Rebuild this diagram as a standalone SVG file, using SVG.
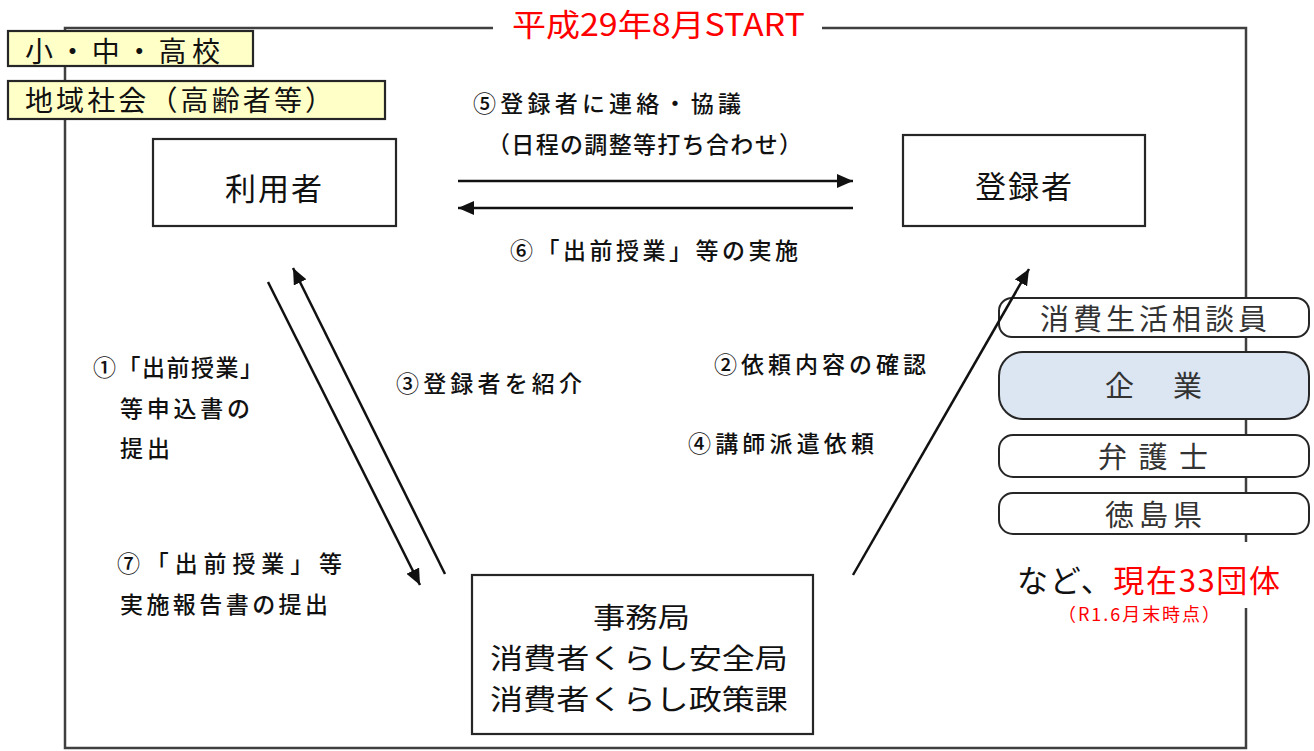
<svg xmlns="http://www.w3.org/2000/svg" width="1314" height="751" viewBox="0 0 1314 751">
<style>
text{font-family:"Noto Sans CJK JP","Noto Sans",sans-serif;}
.frame{fill:none;stroke:#404040;stroke-width:2.5;}
.box{fill:#fff;stroke:#262626;stroke-width:2.2;}
.ybox{fill:#ffffc8;stroke:#262626;stroke-width:2.2;}
.rbox{fill:#fff;stroke:#262626;stroke-width:2;}
.bbox{fill:#dce6f2;stroke:#262626;stroke-width:2;}
.lbl{font-size:23px;fill:#111;font-weight:500;}
.big{font-size:31px;fill:#111;}
.rt{font-size:29px;fill:#333;}
.off{font-size:28px;fill:#111;}
.conn{stroke:#111;stroke-width:2.5;fill:none;marker-end:url(#ah);}
</style>
<defs>
<marker id="ah" markerUnits="userSpaceOnUse" markerWidth="18" markerHeight="14" refX="16" refY="7" orient="auto">
<path d="M0,0 L16,7 L0,14 Z" fill="#111"/>
</marker>
</defs>
<rect width="1314" height="751" fill="#fff"/>
<g id="frame">
<path class="frame" d="M493,28 L65,28 L65,748 L1246,748 L1246,28 L822,28"/>
<text x="512" y="36" font-size="31" fill="#ff0000" textLength="293" lengthAdjust="spacingAndGlyphs">平成29年8月START</text>
</g>
<g id="school">
<rect class="ybox" x="8" y="31" width="245" height="35"/>
<text x="25" y="62" font-size="28" fill="#111" textLength="195">小・中・高校</text>
</g>
<g id="community">
<rect class="ybox" x="8" y="81" width="377" height="38"/>
<text x="25" y="111" font-size="28" fill="#111" textLength="308">地域社会（高齢者等）</text>
</g>
<g id="user">
<rect class="box" x="153" y="139" width="243" height="87"/>
<text class="big" x="225" y="200" textLength="97">利用者</text>
</g>
<g id="registrant">
<rect class="box" x="903" y="135" width="242" height="91"/>
<text class="big" x="975" y="198" textLength="97">登録者</text>
</g>
<g id="office">
<rect class="box" x="472" y="575" width="341" height="159"/>
<text class="off" x="593" y="628" textLength="97" lengthAdjust="spacingAndGlyphs">事務局</text>
<text class="off" x="490" y="669" textLength="298" lengthAdjust="spacingAndGlyphs">消費者くらし安全局</text>
<text class="off" x="490" y="710" textLength="298" lengthAdjust="spacingAndGlyphs">消費者くらし政策課</text>
</g>
<g id="orgs">
<rect x="1005" y="542" width="290" height="66" fill="#fff"/>
<rect class="rbox" x="999" y="298" width="310" height="39" rx="13"/>
<text class="rt" x="1040" y="330" textLength="227">消費生活相談員</text>
<rect class="bbox" x="999" y="352" width="310" height="67" rx="24"/>
<text class="rt" x="1105" y="397" textLength="97">企　業</text>
<rect class="rbox" x="999" y="435" width="310" height="42" rx="14"/>
<text class="rt" x="1098" y="468" textLength="110">弁 護 士</text>
<rect class="rbox" x="999" y="493" width="310" height="41" rx="14"/>
<text class="rt" x="1105" y="526" textLength="97">徳島県</text>
<text x="1017" y="592" font-size="31" fill="#111" textLength="263">など、<tspan fill="#ff0000">現在33団体</tspan></text>
<text x="1058" y="621" font-size="18" fill="#ff0000" textLength="162">（R1.6月末時点）</text>
</g>
<g id="connectors">
<line class="conn" x1="458" y1="181" x2="853" y2="181"/>
<line class="conn" x1="853" y1="208" x2="458" y2="208"/>
<line class="conn" x1="268" y1="282" x2="420" y2="585"/>
<line class="conn" x1="445" y1="574" x2="293" y2="268"/>
<line class="conn" x1="853" y1="575" x2="1029" y2="269"/>
</g>
<g id="labels">
<text class="lbl" x="473" y="112" textLength="268">⑤登録者に連絡・協議</text>
<text class="lbl" x="487" y="153" textLength="315">（日程の調整等打ち合わせ）</text>
<text class="lbl" x="510" y="259" textLength="288">⑥「出前授業」等の実施</text>
<text class="lbl" x="93" y="376" textLength="170">①「出前授業」</text>
<text class="lbl" x="120" y="417" textLength="130">等申込書の</text>
<text class="lbl" x="120" y="457" textLength="50">提出</text>
<text class="lbl" x="117" y="572" textLength="225">⑦「出前授業」等</text>
<text class="lbl" x="120" y="613" textLength="208">実施報告書の提出</text>
<text class="lbl" x="396" y="392" textLength="186">③登録者を紹介</text>
<text class="lbl" x="714" y="373" textLength="212">②依頼内容の確認</text>
<text class="lbl" x="688" y="452" textLength="186">④講師派遣依頼</text>
</g>
</svg>
